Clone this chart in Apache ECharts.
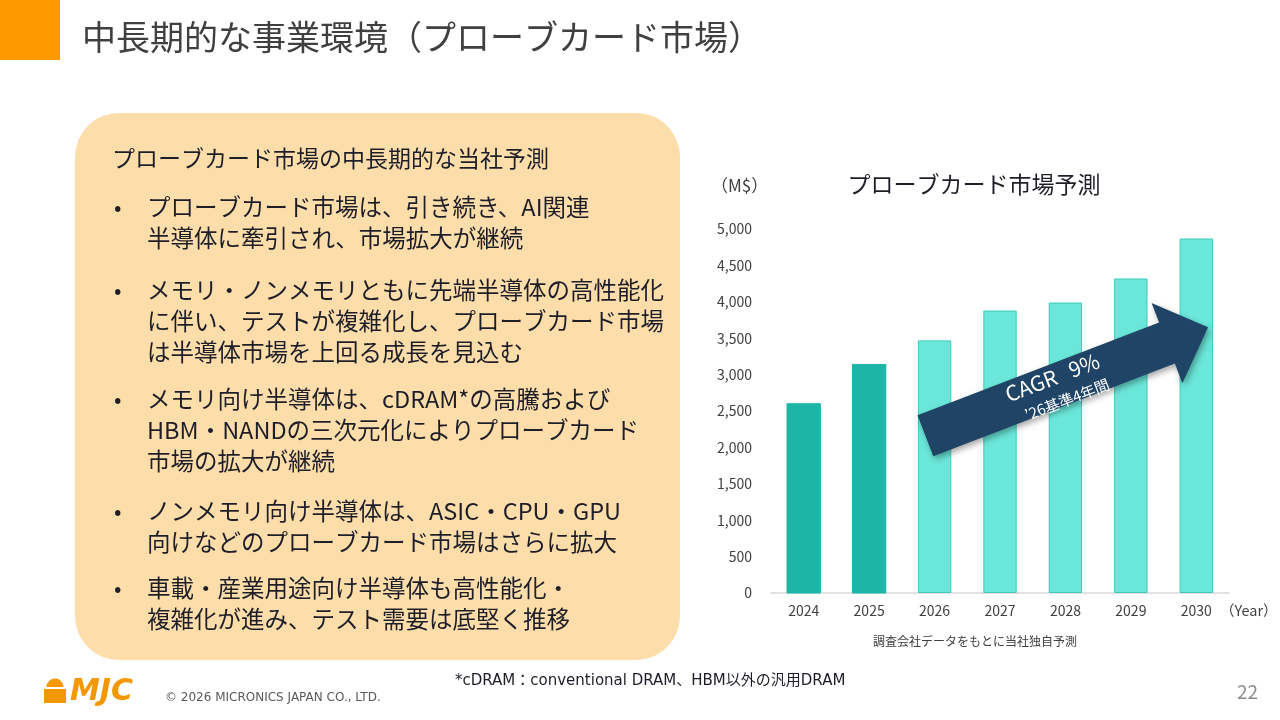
<!DOCTYPE html>
<html lang="ja">

<head>
    <meta charset="utf-8">
    <title>中長期的な事業環境（プローブカード市場）</title>
    <script src="https://cdn.jsdelivr.net/npm/echarts@6/dist/echarts.min.js"></script>
    <style>
        html, body { margin: 0; padding: 0; background: #fff; }
        #chart { width: 1280px; height: 720px; }
    </style>
</head>

<body>
    <div id="chart"></div>

    <script>
        // 市場予測データ (M$)
        const years = ['2024', '2025', '2026', '2027', '2028', '2029', '2030'];
        const marketValues = [2600, 3140, 3470, 3880, 3990, 4320, 4870];
        const actualCount = 2; // 2024, 2025 は濃い色

        const bulletLines = [
            ['プローブカード市場は、引き続き、AI関連', '半導体に牽引され、市場拡大が継続'],
            ['メモリ・ノンメモリともに先端半導体の高性能化', 'に伴い、テストが複雑化し、プローブカード市場', 'は半導体市場を上回る成長を見込む'],
            ['メモリ向け半導体は、cDRAM*の高騰および', 'HBM・NANDの三次元化によりプローブカード', '市場の拡大が継続'],
            ['ノンメモリ向け半導体は、ASIC・CPU・GPU', '向けなどのプローブカード市場はさらに拡大'],
            ['車載・産業用途向け半導体も高性能化・', '複雑化が進み、テスト需要は底堅く推移']
        ];
        const bulletTops = [207, 290, 399, 511, 588];

        const FONT = '"Noto Sans CJK JP", "Noto Sans", sans-serif';
        const WIDE = '"DejaVu Sans", "Noto Sans CJK JP", sans-serif';
        const chart = echarts.init(document.getElementById('chart'));

        const barData = marketValues.map(function (v, i) {
            if (i < actualCount) {
                return { value: v, itemStyle: { color: '#1DB6A6', borderColor: '#1DB6A6' } };
            }
            return { value: v, itemStyle: { color: '#6BE7DA', borderColor: '#3CCABB', borderWidth: 1 } };
        });

        function txt(x, y, text, size, color, extra) {
            return {
                type: 'text', x: x, y: y,
                style: Object.assign({
                    text: text, fontSize: size, fill: color, fontFamily: FONT,
                    textVerticalAlign: 'middle'
                }, extra || {})
            };
        }

        // 左側パネルとヘッダー
        const staticGraphics = [
            { type: 'rect', shape: { x: 0, y: 0, width: 60, height: 60 }, style: { fill: '#FF9900' } },
            txt(82, 37, '中長期的な事業環境（プローブカード市場）', 34, '#404040'),
            { type: 'rect', shape: { x: 75, y: 113, width: 605, height: 547, r: 44 }, style: { fill: '#FDDEAB' } },
            txt(112, 158, 'プローブカード市場の中長期的な当社予測', 23, '#1E1E28')
        ];
        bulletLines.forEach(function (lines, i) {
            staticGraphics.push(txt(114, bulletTops[i], '•', 22, '#1E1E28'));
            lines.forEach(function (line, j) {
                staticGraphics.push(txt(147, bulletTops[i] + j * 31, line, 23.5, '#1E1E28'));
            });
        });
        staticGraphics.push(
            txt(711, 186, '（M$）', 17, '#404040'),
            txt(974, 184, 'プローブカード市場予測', 23, '#1E1E28', { textAlign: 'center' }),
            txt(1220, 610, '（Year）', 14.5, '#404040'),
            txt(975, 641, '調査会社データをもとに当社独自予測', 12, '#404040', { textAlign: 'center' }),
            txt(455, 681, '*cDRAM：conventional DRAM、HBM以外の汎用DRAM', 15, '#1E1E28', { fontFamily: WIDE }),
            txt(165, 698, '© 2026 MICRONICS JAPAN CO., LTD.', 12, '#595959', { fontFamily: WIDE }),
            txt(1258, 692, '22', 19, '#8C8C8C', { textAlign: 'right' }),
            // MJC ロゴ
            { type: 'rect', shape: { x: 44, y: 689, width: 22, height: 14 }, style: { fill: '#F39800' } },
            { type: 'circle', shape: { cx: 55, cy: 687, r: 8.5 }, style: { fill: '#F39800' } },
            { type: 'rect', shape: { x: 44, y: 687, width: 22, height: 2 }, style: { fill: '#fff' } },
            txt(70, 692, 'MJC', 30, '#F39800', { fontWeight: 'bold', fontStyle: 'italic', fontFamily: '"DejaVu Sans", sans-serif' })
        );

        const option = {
            animation: false,
            grid: { left: 771, right: 51, top: 229, bottom: 127 },
            xAxis: {
                type: 'category',
                data: years,
                axisLine: { lineStyle: { color: '#D9D9D9', width: 1.5 } },
                axisTick: { show: false },
                axisLabel: { color: '#404040', fontSize: 14, margin: 11, fontFamily: FONT }
            },
            yAxis: {
                type: 'value',
                min: 0, max: 5000, interval: 500,
                axisLine: { show: false },
                axisTick: { show: false },
                splitLine: { show: false },
                axisLabel: {
                    color: '#404040', fontSize: 14, margin: 19, fontFamily: FONT,
                    formatter: function (v) { return v.toLocaleString('en-US'); }
                }
            },
            series: [{
                type: 'bar',
                data: barData,
                barWidth: '51%'
            }],
            graphic: staticGraphics
        };
        chart.setOption(option);

        // CAGR 矢印 (データ座標から位置を決める; カテゴリ間は補間)
        function catPixel(idx, value) {
            const i0 = Math.floor(idx);
            const a = chart.convertToPixel({ seriesIndex: 0 }, [i0, value]);
            const b = chart.convertToPixel({ seriesIndex: 0 }, [i0 + 1, value]);
            const t = idx - i0;
            return [a[0] + (b[0] - a[0]) * t, a[1]];
        }
        const tail = catPixel(1.86, 2160);
        const tip = catPixel(6.18, 3650);
        const dx = tip[0] - tail[0], dy = tip[1] - tail[1];
        const len = Math.sqrt(dx * dx + dy * dy);
        const ux = dx / len, uy = dy / len;
        const nx = -uy, ny = ux;
        const bodyHalf = 22, headHalf = 43, headLen = 44;
        function pt(along, side) {
            return [tail[0] + ux * along + nx * side, tail[1] + uy * along + ny * side];
        }
        const arrowPoints = [
            pt(0, -bodyHalf), pt(len - headLen, -bodyHalf), pt(len - headLen, -headHalf),
            pt(len, 0),
            pt(len - headLen, headHalf), pt(len - headLen, bodyHalf), pt(0, bodyHalf)
        ];
        const angle = -Math.atan2(dy, dx);
        const mid1 = pt(len * 0.46, -9);
        const mid2 = pt(len * 0.48, 17);
        chart.setOption({
            graphic: staticGraphics.concat([
                {
                    type: 'polygon', shape: { points: arrowPoints },
                    style: { fill: '#1F4466', shadowBlur: 6, shadowColor: 'rgba(0,0,0,0.35)', shadowOffsetX: 2, shadowOffsetY: 3 },
                    z: 10
                },
                {
                    type: 'text', x: mid1[0], y: mid1[1], rotation: angle, z: 11,
                    style: { text: 'CAGR   9%', fontSize: 21, fill: '#fff', fontFamily: FONT, textAlign: 'center', textVerticalAlign: 'middle' }
                },
                {
                    type: 'text', x: mid2[0], y: mid2[1], rotation: angle, z: 11,
                    style: { text: '’26基準4年間', fontSize: 15, fill: '#fff', fontFamily: FONT, textAlign: 'center', textVerticalAlign: 'middle' }
                }
            ])
        });
    </script>
</body>

</html>
